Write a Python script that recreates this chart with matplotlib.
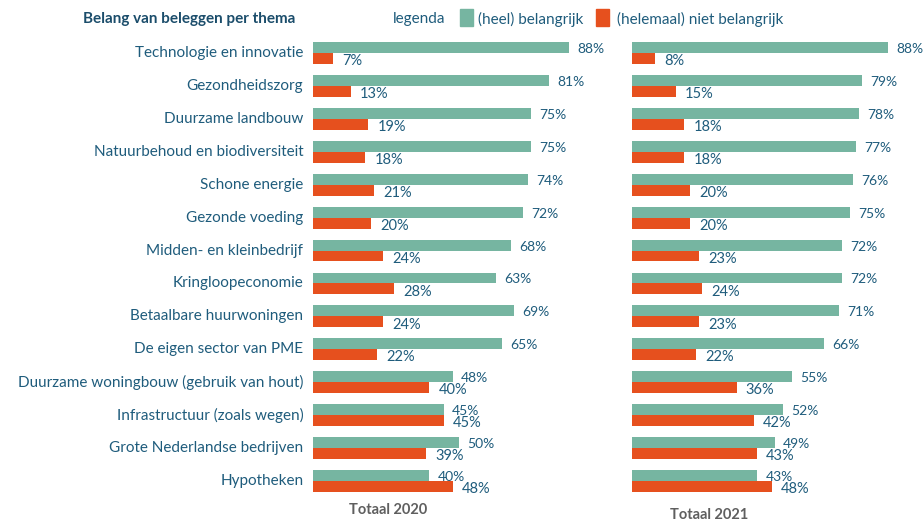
import matplotlib
matplotlib.use("Agg")
import matplotlib.pyplot as plt
from matplotlib.patches import Rectangle

# Data
themes = [
    "Technologie en innovatie",
    "Gezondheidszorg",
    "Duurzame landbouw",
    "Natuurbehoud en biodiversiteit",
    "Schone energie",
    "Gezonde voeding",
    "Midden- en kleinbedrijf",
    "Kringloopeconomie",
    "Betaalbare huurwoningen",
    "De eigen sector van PME",
    "Duurzame woningbouw (gebruik van hout)",
    "Infrastructuur (zoals wegen)",
    "Grote Nederlandse bedrijven",
    "Hypotheken",
]
important_2020 = [88, 81, 75, 75, 74, 72, 68, 63, 69, 65, 48, 45, 50, 40]
not_important_2020 = [7, 13, 19, 18, 21, 20, 24, 28, 24, 22, 40, 45, 39, 48]
important_2021 = [88, 79, 78, 77, 76, 75, 72, 72, 71, 66, 55, 52, 49, 43]
not_important_2021 = [8, 15, 18, 18, 20, 20, 23, 24, 23, 22, 36, 42, 43, 48]
panel_titles = ["Totaal 2020", "Totaal 2021"]

GREEN = "#76b5a1"
ORANGE = "#e6501e"
TEXT = "#1f5c7c"
TITLE = "#1b4d6b"
GREY = "#5f5f5f"

plt.rcParams["font.family"] = ["Lato", "DejaVu Sans"]
plt.rcParams["font.size"] = 10.5

W, H = 924, 521
fig = plt.figure(figsize=(W / 100, H / 100), dpi=100)

bar_h = 0.33
rows = list(range(len(themes)))
ax_bottom = (H - 497.2) / H
ax_height = (497.2 - 36.85) / H

panels = [
    (313, important_2020, not_important_2020, panel_titles[0], 388, 510),
    (632, important_2021, not_important_2021, panel_titles[1], 709, 515),
]

for i, (left_px, good, bad, title, tx, ty) in enumerate(panels):
    ax = fig.add_axes([left_px / W, ax_bottom, 291 / W, ax_height])
    ax.barh([r - bar_h / 2 for r in rows], good, height=bar_h, color=GREEN)
    ax.barh([r + bar_h / 2 for r in rows], bad, height=bar_h, color=ORANGE)
    ax.set_xlim(0, 100)
    ax.set_ylim(13.5, -0.5)
    ax.axis("off")
    # value labels next to the bar ends
    for r, g, b in zip(rows, good, bad):
        ax.annotate(f"{g}%", (g, r - bar_h / 2), xytext=(6, -1),
                    textcoords="offset points", va="center", color=TEXT,
                    fontsize=10, annotation_clip=False)
        ax.annotate(f"{b}%", (b, r + bar_h / 2), xytext=(6.5, -2),
                    textcoords="offset points", va="center", color=TEXT,
                    fontsize=10.5, annotation_clip=False)
    if i == 0:
        for r, name in zip(rows, themes):
            ax.annotate(name, (0, r), xytext=(-7, 0), textcoords="offset points",
                        ha="right", va="center", color=TEXT, fontsize=11,
                        annotation_clip=False)
    fig.text(tx / W, 1 - ty / H, title, ha="center", va="center",
             color=GREY, fontweight="bold", fontsize=10.5)

# header and legend
fig.text(295 / W, 1 - 19 / H, "Belang van beleggen per thema", ha="right",
         va="center", color=TITLE, fontweight="bold", fontsize=11)
fig.text(393 / W, 1 - 19 / H, "legenda", ha="left", va="center",
         color=TEXT, fontsize=11)
fig.patches.append(Rectangle((460 / W, 1 - 26 / H), 13 / W, 17 / H,
                             transform=fig.transFigure, color=GREEN))
fig.text(478 / W, 1 - 19 / H, "(heel) belangrijk", ha="left", va="center",
         color=TEXT, fontsize=11)
fig.patches.append(Rectangle((596 / W, 1 - 26 / H), 13 / W, 17 / H,
                             transform=fig.transFigure, color=ORANGE))
fig.text(617 / W, 1 - 19 / H, "(helemaal) niet belangrijk", ha="left",
         va="center", color=TEXT, fontsize=11)

fig.savefig("out.png", dpi=100)
